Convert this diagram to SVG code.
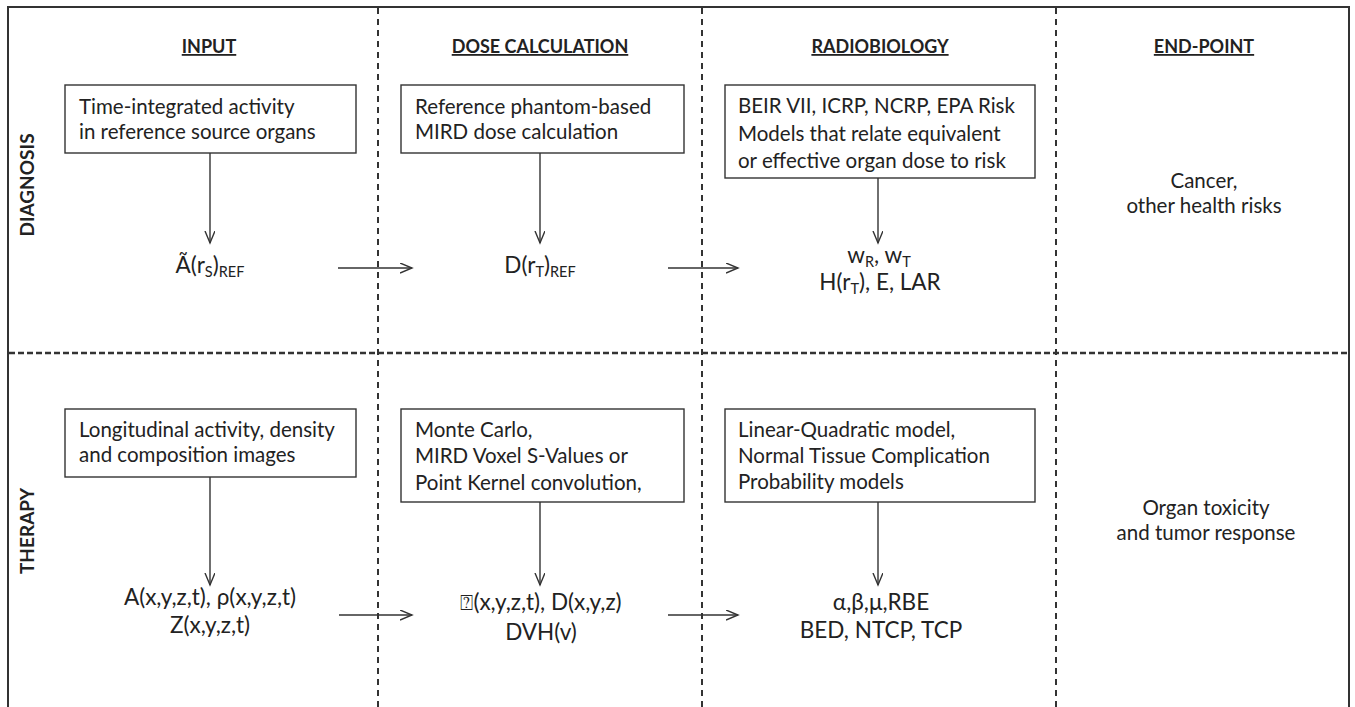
<svg xmlns="http://www.w3.org/2000/svg" width="1355" height="707" viewBox="0 0 1355 707">
<defs>
<style>
.t{font-family:Lato,"Liberation Sans",sans-serif;font-size:20.5px;fill:#222}
.f{font-family:Lato,"Liberation Sans",sans-serif;font-size:22.5px;fill:#222}
.h{font-family:Lato,"Liberation Sans",sans-serif;font-size:18px;font-weight:bold;fill:#222;text-decoration:underline}
.v{font-family:Lato,"Liberation Sans",sans-serif;font-size:19px;font-weight:bold;fill:#222}
.s{font-size:14.5px}
.box{fill:#fff;stroke:#333;stroke-width:1.4}
.frame{fill:none;stroke:#333;stroke-width:2}
.dv{stroke:#333;stroke-width:2;stroke-dasharray:6 5}
.dh{stroke:#333;stroke-width:2.5;stroke-dasharray:6 3}
.c{stroke:#333;stroke-width:1.4;fill:none;marker-end:url(#arr)}
</style>
<marker id="arr" markerWidth="14" markerHeight="12" refX="12" refY="5" orient="auto" markerUnits="userSpaceOnUse">
<path d="M0,0 L12,5 L0,10" fill="none" stroke="#333" stroke-width="1.4"/>
</marker>
</defs>
<rect width="1355" height="707" fill="#fff"/>
<g id="grid">
<path class="frame" d="M8,707 L8,7 L1349,7 L1349,707"/>
<line class="dv" x1="378" y1="8" x2="378" y2="707"/>
<line class="dv" x1="702" y1="8" x2="702" y2="707"/>
<line class="dv" x1="1056" y1="8" x2="1056" y2="707"/>
<line class="dh" x1="9" y1="353" x2="1348" y2="353"/>
</g>
<g id="headers">
<text class="h" x="209" y="53" text-anchor="middle">INPUT</text>
<text class="h" x="540" y="53" text-anchor="middle">DOSE CALCULATION</text>
<text class="h" x="880" y="53" text-anchor="middle">RADIOBIOLOGY</text>
<text class="h" x="1204" y="53" text-anchor="middle">END-POINT</text>
<text class="v" transform="translate(34,185) rotate(-90)" text-anchor="middle">DIAGNOSIS</text>
<text class="v" transform="translate(34,531) rotate(-90)" text-anchor="middle">THERAPY</text>
</g>
<g id="connectors">
<line class="c" x1="210" y1="153" x2="210" y2="243"/>
<line class="c" x1="540" y1="153" x2="540" y2="243"/>
<line class="c" x1="878" y1="178" x2="878" y2="243"/>
<line class="c" x1="338" y1="268" x2="412" y2="268"/>
<line class="c" x1="668" y1="268" x2="738" y2="268"/>
<line class="c" x1="210" y1="477" x2="210" y2="585"/>
<line class="c" x1="540" y1="502" x2="540" y2="585"/>
<line class="c" x1="878" y1="502" x2="878" y2="585"/>
<line class="c" x1="339" y1="615" x2="412" y2="615"/>
<line class="c" x1="668" y1="615" x2="738" y2="615"/>
</g>
<g id="diag-input-box">
<rect class="box" x="65" y="85" width="291" height="68"/>
<text class="t" x="79" y="114">Time-integrated activity</text>
<text class="t" x="79" y="139">in reference source organs</text>
</g>
<g id="diag-dose-box">
<rect class="box" x="401" y="85" width="283" height="68"/>
<text class="t" x="415" y="114">Reference phantom-based</text>
<text class="t" x="415" y="139">MIRD dose calculation</text>
</g>
<g id="diag-radio-box">
<rect class="box" x="725" y="85" width="310" height="93"/>
<text class="t" x="738" y="113">BEIR VII, ICRP, NCRP, EPA Risk</text>
<text class="t" x="738" y="141">Models that relate equivalent</text>
<text class="t" x="738" y="168">or effective organ dose to risk</text>
</g>
<g id="diag-input-val">
<text class="f" x="210" y="273" text-anchor="middle">Ã(r<tspan class="s" dy="4">S</tspan><tspan dy="-4">)</tspan><tspan class="s" dy="4">REF</tspan></text>
</g>
<g id="diag-dose-val">
<text class="f" x="540" y="273" text-anchor="middle">D(r<tspan class="s" dy="4">T</tspan><tspan dy="-4">)</tspan><tspan class="s" dy="4">REF</tspan></text>
</g>
<g id="diag-radio-val">
<text class="f" x="879" y="263" text-anchor="middle">w<tspan class="s" dy="4">R</tspan><tspan dy="-4">, w</tspan><tspan class="s" dy="4">T</tspan></text>
<text class="f" x="880" y="290" text-anchor="middle">H(r<tspan class="s" dy="4">T</tspan><tspan dy="-4">), E, LAR</tspan></text>
</g>
<g id="diag-endpoint">
<text class="t" x="1204" y="188" text-anchor="middle">Cancer,</text>
<text class="t" x="1204" y="213" text-anchor="middle">other health risks</text>
</g>
<g id="ther-input-box">
<rect class="box" x="65" y="409" width="291" height="68"/>
<text class="t" x="79" y="437">Longitudinal activity, density</text>
<text class="t" x="79" y="462">and composition  images</text>
</g>
<g id="ther-dose-box">
<rect class="box" x="401" y="409" width="283" height="93"/>
<text class="t" x="415" y="437">Monte Carlo,</text>
<text class="t" x="415" y="463">MIRD Voxel S-Values or</text>
<text class="t" x="415" y="490">Point Kernel convolution,</text>
</g>
<g id="ther-radio-box">
<rect class="box" x="725" y="409" width="310" height="93"/>
<text class="t" x="738" y="437">Linear-Quadratic model,</text>
<text class="t" x="738" y="463">Normal Tissue Complication</text>
<text class="t" x="738" y="489">Probability models</text>
</g>
<g id="ther-input-val">
<text class="f" x="210" y="605" text-anchor="middle">A(x,y,z,t), ρ(x,y,z,t)</text>
<text class="f" x="210" y="633" text-anchor="middle">Z(x,y,z,t)</text>
</g>
<g id="ther-dose-val">
<text class="f" x="541" y="610" text-anchor="middle"><tspan style="font-family:'DejaVu Sans',sans-serif;font-size:22px">⍰</tspan>(x,y,z,t), D(x,y,z)</text>
<text class="f" x="541" y="640" text-anchor="middle">DVH(v)</text>
</g>
<g id="ther-radio-val">
<text class="f" x="881" y="610" text-anchor="middle">α,β,μ,RBE</text>
<text class="f" x="881" y="638" text-anchor="middle">BED, NTCP, TCP</text>
</g>
<g id="ther-endpoint">
<text class="t" x="1206" y="515" text-anchor="middle">Organ toxicity</text>
<text class="t" x="1206" y="540" text-anchor="middle">and tumor response</text>
</g>
</svg>
